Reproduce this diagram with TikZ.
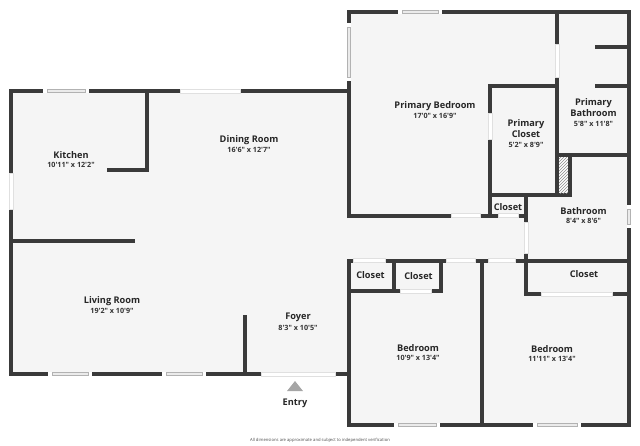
\documentclass[tikz,border=0pt]{standalone}
\usepackage{fontspec}
\usepackage{tikz}
\usetikzlibrary{patterns}
\newfontfamily\planfont{Open Sans}
\definecolor{wallgray}{HTML}{3A3A3A}
\definecolor{floorgray}{HTML}{F5F5F5}
\tikzset{
    wall/.style={draw=wallgray,line width=4pt,miter limit=10},
    door/.style={fill=white,draw=black!12,line width=.4pt},
    roomname/.style={font=\planfont\bfseries\fontsize{9.2}{11.6}\selectfont,text=black!85,inner sep=0pt,yshift=-.7pt},
    roomsize/.style={font=\planfont\bfseries\fontsize{7.2}{8}\selectfont,text=black!80,inner sep=0pt,yshift=-.4pt}
}
\begin{document}
\begin{tikzpicture}[x=1pt,y=-1pt]
    \useasboundingbox (0,0) rectangle (640,445);
    % floor
    \fill[floorgray] (11,91) -- (349,91) -- (349,11) -- (629,11) -- (629,425) -- (349,425) -- (349,374) -- (11,374) -- cycle;
    % outer walls
    \draw[wall] (349,218) -- (349,11.5) -- (629,11.5) -- (629,424.5) -- (349,424.5) -- (349,259);
    \draw[wall] (349,91) -- (11,91) -- (11,374) -- (349,374);
    % kitchen, living room, foyer
    \draw[wall] (147,91) -- (147,169.5) -- (107,169.5);
    \draw[wall] (11,241) -- (135,241);
    \draw[wall] (245,315) -- (245,374);
    % primary suite
    \draw[wall] (557,11) -- (557,197);
    \draw[wall] (557,86) -- (490,86) -- (490,215.5);
    \draw[wall] (347,215.5) -- (526,215.5);
    \draw[wall] (488,195) -- (570,195) -- (570,155);
    \draw[wall] (557,155) -- (629,155);
    \draw[wall] (595,47) -- (629,47);
    \draw[wall] (595,86) -- (629,86);
    % bathroom, hall, bedrooms
    \draw[wall] (526,195) -- (526,294) -- (629,294);
    \draw[wall] (347,260.5) -- (631,260.5);
    \draw[wall] (482,260) -- (482,425);
    \draw[wall] (394,260) -- (394,291);
    \draw[wall] (349,291) -- (443,291);
    \draw[wall] (441,260) -- (441,291);
    % hatched shaft
    \fill[white] (559,157) rectangle (568,193);
    \draw[draw=none,pattern=north east lines,pattern color=black!45] (559,157) rectangle (568,193);
    % door openings: x1/x2/y horizontal
    \foreach \xa/\xb/\ya in {180/240/91,261/335/374,451/480/215.5,498/518/215.5,353/385/260.5,446/475/260.5,488/515/260.5,400/431/291,541/612/294}
        \draw[door] (\xa,\ya-2) rectangle (\xb,\ya+2);
    % door openings: y1/y2/x vertical
    \foreach \ya/\yb/\xa in {173/209/11,44/77/557,113/139/490,222/253/526}
        \draw[door] (\xa-2,\ya) rectangle (\xa+2,\yb);
    % windows: x1/x2/y horizontal
    \foreach \xa/\xb/\ya in {43/89/91,48/92/374,162/206/374,398/442/11.5,394/440/424.5,533/581/424.5} {
        \fill[white] (\xa,\ya-2) rectangle (\xb,\ya+2);
        \draw[black!30,line width=.4pt,fill=black!8] (\xa+4,\ya-1.5) rectangle (\xb-4,\ya+1.5);
    }
    % windows: y1/y2/x vertical
    \foreach \ya/\yb/\xa in {23/81/349,205/228/629} {
        \fill[white] (\xa-2,\ya) rectangle (\xa+2,\yb);
        \draw[black!30,line width=.4pt,fill=black!8] (\xa-1.5,\ya+4) rectangle (\xa+1.5,\yb-4);
    }
    % labels
    \node[roomname] (kitchen) at (71,154) {Kitchen};
    \node[roomsize] (kitchensize) at (71,165) {10'11" x 12'2"};
    \node[roomname] (dining) at (249,139) {Dining Room};
    \node[roomsize] (diningsize) at (249,149.5) {16'6" x 12'7"};
    \node[roomname] (living) at (112,300) {Living Room};
    \node[roomsize] (livingsize) at (112,311) {19'2" x 10'9"};
    \node[roomname] (foyer) at (298,317) {Foyer};
    \node[roomsize] (foyersize) at (298,327.5) {8'3" x 10'5"};
    \node[roomname] (primarybed) at (435,105) {Primary Bedroom};
    \node[roomsize] (primarybedsize) at (435,116) {17'0" x 16'9"};
    \node[roomname,align=center] (primarycloset) at (526,128) {Primary\\Closet};
    \node[roomsize] (primaryclosetsize) at (526,145) {5'2" x 8'9"};
    \node[roomname,align=center] (primarybath) at (593.5,107) {Primary\\Bathroom};
    \node[roomsize] (primarybathsize) at (593.5,124) {5'8" x 11'8"};
    \node[roomname] (bathroom) at (583.5,210.5) {Bathroom};
    \node[roomsize] (bathroomsize) at (583.5,221) {8'4" x 8'6"};
    \node[roomname] (closeta) at (508,206) {Closet};
    \node[roomname] (closetb) at (370.5,274) {Closet};
    \node[roomname] (closetc) at (418.5,275) {Closet};
    \node[roomname] (closetd) at (584,273.5) {Closet};
    \node[roomname] (bedrooma) at (418,347.5) {Bedroom};
    \node[roomsize] (bedroomasize) at (418,358) {10'9" x 13'4"};
    \node[roomname] (bedroomb) at (552,348.5) {Bedroom};
    \node[roomsize] (bedroombsize) at (552,359) {11'11" x 13'4"};
    % entry
    \fill[black!35] (295,381) -- (303,391) -- (287,391) -- cycle;
    \node[roomname] (entry) at (295,402.5) {Entry};
    \node[font=\planfont\fontsize{4.2}{5}\selectfont,text=black!70,inner sep=0pt] (note) at (320,440.5) {All dimensions are approximate and subject to independent verification};
\end{tikzpicture}
\end{document}
